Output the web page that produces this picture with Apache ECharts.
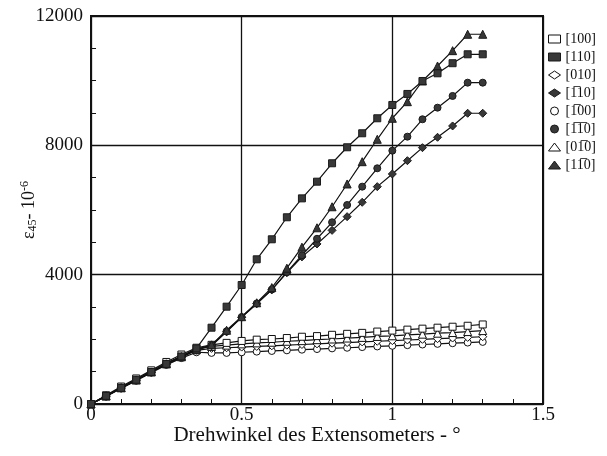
<!DOCTYPE html>
<html>
<head>
<meta charset="utf-8">
<script src="https://cdn.jsdelivr.net/npm/echarts@6/dist/echarts.min.js"></script>
<style>
  html, body { margin: 0; padding: 0; background: #fff; }
  #chart { width: 607px; height: 456px; }
</style>
</head>
<body>
<div id="chart"></div>
<script>
// Rotation angle of the extensometer (degrees)
const angles = [0, 0.05, 0.1, 0.15, 0.2, 0.25, 0.3, 0.35, 0.4, 0.45, 0.5, 0.55, 0.6, 0.65,
  0.7, 0.75, 0.8, 0.85, 0.9, 0.95, 1.0, 1.05, 1.1, 1.15, 1.2, 1.25, 1.3];

// Strain eps45 (x 10^-6) for each crystal direction
const dir100 = [0, 270, 540, 790, 1040, 1300, 1530, 1740, 1830, 1890, 1950, 1990, 2010, 2040,
  2080, 2100, 2140, 2170, 2200, 2240, 2270, 2300, 2330, 2360, 2390, 2420, 2460];
const dir110 = [0, 250, 500, 750, 990, 1240, 1470, 1720, 2360, 3010, 3680, 4475, 5094, 5775,
  6360, 6876, 7445, 7940, 8373, 8837, 9248, 9590, 9990, 10228, 10540, 10816, 10816];
const dir010 = [0, 240, 490, 740, 980, 1230, 1450, 1660, 1720, 1740, 1760, 1780, 1800, 1820,
  1840, 1860, 1880, 1900, 1920, 1940, 1960, 1980, 2000, 2020, 2040, 2060, 2080];
const dirM110 = [0, 250, 500, 740, 990, 1240, 1460, 1680, 1800, 2230, 2680, 3100, 3530, 4060,
  4550, 4950, 5370, 5794, 6238, 6722, 7114, 7525, 7928, 8249, 8599, 8992, 8992];
const dirM100 = [0, 230, 480, 720, 970, 1210, 1420, 1600, 1580, 1580, 1600, 1620, 1640, 1660,
  1680, 1700, 1720, 1740, 1760, 1780, 1800, 1820, 1840, 1860, 1880, 1900, 1920];
const dirM1M10 = [0, 250, 500, 740, 990, 1240, 1460, 1680, 1820, 2250, 2690, 3110, 3540, 4080,
  4600, 5110, 5620, 6155, 6722, 7290, 7835, 8268, 8806, 9165, 9527, 9938, 9938];
const dir0M10 = [0, 250, 510, 760, 1010, 1260, 1480, 1700, 1780, 1820, 1860, 1890, 1910, 1940,
  1960, 1990, 2010, 2040, 2060, 2090, 2110, 2140, 2160, 2190, 2210, 2240, 2270];
const dir1M10 = [0, 250, 500, 740, 990, 1240, 1460, 1680, 1830, 2280, 2700, 3130, 3600, 4200,
  4850, 5450, 6100, 6805, 7494, 8187, 8837, 9350, 9990, 10454, 10928, 11435, 11435];

// Axis ticks
const xTicks = [0, 0.5, 1, 1.5];
const yTicks = [0, 4000, 8000, 12000];

const OB = '\u0305'; // combining overline for negative indices
const names = ['[100]', '[110]', '[010]', '[1' + OB + '10]', '[1' + OB + '00]',
  '[1' + OB + '1' + OB + '0]', '[01' + OB + '0]', '[11' + OB + '0]'];
const valueSets = [dir100, dir110, dir010, dirM110, dirM100, dirM1M10, dir0M10, dir1M10];
const symbols = ['rect', 'rect', 'diamond', 'diamond', 'circle', 'circle', 'triangle', 'triangle'];
const filled = [false, true, false, true, false, true, false, true];
const sizes = [7, 7, 8, 8, 7, 7, 8, 8];

const FONT = '"Liberation Serif", "DejaVu Serif", serif';
const DARK = '#383838';

function styleFor(i) {
  return filled[i]
    ? { color: DARK, borderColor: '#1a1a1a', borderWidth: 1 }
    : { color: '#ffffff', borderColor: '#111', borderWidth: 1 };
}

const drawOrder = [4, 2, 6, 0, 3, 5, 7, 1];
const series = drawOrder.map(function (i) {
  return {
    name: names[i],
    type: 'line',
    data: angles.map(function (a, k) { return [a, valueSets[i][k]]; }),
    symbol: symbols[i],
    symbolSize: sizes[i],
    showAllSymbol: true,
    lineStyle: { color: '#111', width: 1.2 },
    itemStyle: styleFor(i),
    z: filled[i] ? 3 : 2,
    animation: false
  };
});

const chart = echarts.init(document.getElementById('chart'), null, { renderer: 'canvas' });
chart.setOption({
  backgroundColor: '#fff',
  animation: false,
  grid: {
    left: 91, right: 64, top: 16, bottom: 52,
    outerBoundsMode: 'none', containLabel: false,
    show: true, borderColor: '#111', borderWidth: 2, backgroundColor: 'transparent'
  },
  legend: {
    orient: 'vertical',
    left: 543,
    top: 27,
    itemWidth: 12,
    itemHeight: 8,
    itemGap: 4,
    textStyle: { fontFamily: FONT, fontSize: 14, color: '#111', lineHeight: 14 },
    data: names.map(function (n, i) {
      return { name: n, icon: symbols[i], itemStyle: styleFor(i) };
    })
  },
  xAxis: {
    type: 'value',
    min: xTicks[0],
    max: xTicks[xTicks.length - 1],
    interval: 0.5,
    name: 'Drehwinkel des Extensometers - \u00b0',
    nameLocation: 'middle',
    nameGap: 21,
    nameMoveOverlap: false,
    nameTextStyle: { fontFamily: FONT, fontSize: 21, color: '#111' },
    axisLine: { show: true, lineStyle: { color: '#111', width: 2 } },
    axisTick: { show: true, inside: true, length: 5, lineStyle: { color: '#111' } },
    minorTick: { show: true, splitNumber: 5, length: 5, lineStyle: { color: '#111' } },
    axisLabel: { fontFamily: FONT, fontSize: 19, color: '#111', margin: 2 },
    splitLine: { show: true, lineStyle: { color: '#111', width: 1.3 } }
  },
  yAxis: {
    type: 'value',
    min: yTicks[0],
    max: yTicks[yTicks.length - 1],
    interval: 4000,
    name: '{e|\u03b5}{sub|45}{e|- 10}{sup|-6}',
    nameLocation: 'middle',
    nameRotate: 90,
    nameGap: 52,
    nameMoveOverlap: false,
    nameTextStyle: {
      fontFamily: FONT, color: '#111',
      rich: {
        e: { fontFamily: FONT, fontSize: 18, color: '#111' },
        sub: { fontFamily: FONT, fontSize: 12, color: '#111', verticalAlign: 'bottom', padding: [8, 0, 0, 0] },
        sup: { fontFamily: FONT, fontSize: 12, color: '#111', verticalAlign: 'top', padding: [0, 0, 8, 0] }
      }
    },
    axisLine: { show: true, lineStyle: { color: '#111', width: 2 } },
    axisTick: { show: true, inside: true, length: 5, lineStyle: { color: '#111' } },
    minorTick: { show: true, splitNumber: 4, length: 5, lineStyle: { color: '#111' } },
    axisLabel: {
      fontFamily: FONT, fontSize: 19, color: '#111', margin: 8,
      formatter: function (v) { return String(v); }
    },
    splitLine: { show: true, lineStyle: { color: '#111', width: 1.3 } }
  },
  series: series
});
</script>
</body>
</html>
